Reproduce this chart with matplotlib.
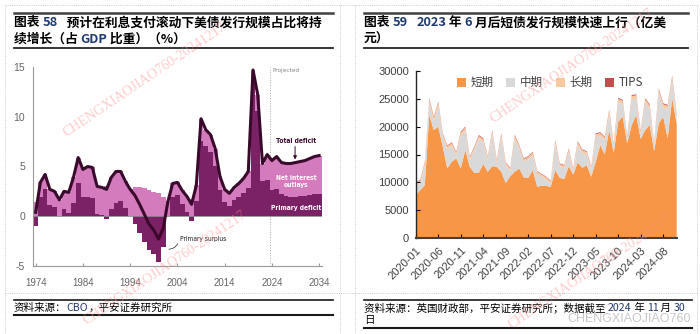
import matplotlib
matplotlib.use('Agg')
import matplotlib.pyplot as plt
from matplotlib.lines import Line2D
from matplotlib import font_manager
import numpy as np
import pandas as pd

plt.rcParams['axes.unicode_minus'] = False

W, H = 700, 334
CJK = 'Noto Sans CJK SC'
NAVY = '#1F3A6E'

# pick a narrow face for the small chart notes if one is around
fonts = font_manager.fontManager.ttflist
if any(f.name == 'Liberation Sans Narrow' for f in fonts):
    NOTE = dict(family='Liberation Sans Narrow')
    NOTE_SIZE = 5.6
elif any(f.name == 'DejaVu Sans' and f.stretch == 'condensed' for f in fonts):
    NOTE = dict(family='DejaVu Sans', fontstretch='condensed')
    NOTE_SIZE = 4.8
else:
    NOTE = dict(family='Liberation Sans')
    NOTE_SIZE = 4.5

# ---- 图表58: CBO deficit components, % of GDP ----
years = np.arange(1974, 2035)
primary_deficit = [-1.0, 1.9, 2.7, 1.1, 0.9, 0.05, 0.7, 0.3, 1.3, 3.3,
                   1.9, 1.9, 1.8, 0.2, 0.1, -0.3, 0.7, 1.3, 1.5, 0.8,
                   0.0, -0.8, -1.7, -2.6, -3.4, -3.8, -4.6, -3.1, 0.0, 1.9,
                   2.1, 1.2, 0.4, -0.5, 1.5, 7.6, 7.1, 6.5, 5.1, 2.6,
                   1.4, 1.0, 1.6, 1.9, 2.3, 2.8, 13.3, 10.6, 3.5, 3.6,
                   2.6, 2.7, 2.2, 2.0, 1.9, 1.9, 2.0, 2.0, 2.1, 2.2, 2.2]
net_interest = [1.4, 1.5, 1.5, 1.6, 1.6, 1.6, 1.8, 2.1, 2.6, 2.6,
                2.8, 3.1, 3.1, 2.8, 2.8, 3.0, 3.2, 3.2, 3.0, 2.7,
                2.7, 2.9, 2.9, 2.8, 2.6, 2.4, 2.3, 1.9, 1.5, 1.4,
                1.3, 1.4, 1.6, 1.7, 1.6, 2.2, 1.6, 1.7, 1.7, 1.4,
                1.3, 1.3, 1.3, 1.4, 1.5, 1.7, 1.4, 1.6, 1.8, 2.6,
                3.0, 3.3, 3.2, 3.3, 3.4, 3.5, 3.5, 3.6, 3.7, 3.8, 3.9]
decade_ticks = [1974, 1984, 1994, 2004, 2014, 2024, 2034]

# ---- 图表59: monthly Treasury issuance by tenor, 亿美元 ----
months = pd.period_range('2020-01', '2024-11', freq='M').strftime('%Y-%m').tolist()
short_term = [7700, 8600, 9500, 22100, 19400, 20000, 16400, 12500, 13700, 14300,
              12500, 15800, 12800, 11700, 11700, 13300, 11900, 12900, 12800, 11900,
              9900, 11100, 11900, 12500, 10900, 10800, 12200, 9200, 9400, 9350,
              9200, 12200, 10800, 10600, 12900, 11400, 13600, 12600, 13100, 11000,
              13700, 16700, 15000, 19400, 15300, 20900, 21800, 17000, 20300, 22100,
              17800, 19400, 20300, 15600, 20600, 21800, 17900, 25100, 20500]
mid_term = [1680, 1330, 3550, 2220, 1690, 3750, 1730, 3490, 2860, 610,
            5870, 3500, 1220, 4060, 6110, 3930, 2100, 5800, 600, 6220,
            3150, 980, 5900, 3560, 2810, 3290, 2660, 2260, 1580, 1140,
            610, 4730, 2030, 1950, 2560, 560, 3130, 2680, 1890, 1260,
            4420, 1620, 2540, 2850, 990, 3520, 2240, 660, 4610, 2910,
            850, 4930, 2960, 880, 5500, 1650, 5270, 3270, 980]
long_term = [420, 450, 500, 600, 550, 580, 520, 480, 500, 470,
             560, 540, 460, 500, 530, 520, 480, 540, 470, 530,
             440, 420, 540, 500, 470, 480, 500, 430, 420, 410,
             400, 520, 450, 440, 500, 430, 520, 490, 480, 430,
             530, 530, 520, 580, 480, 600, 590, 500, 610, 610,
             510, 600, 580, 490, 620, 580, 570, 640, 560]
tips = [100, 120, 150, 180, 160, 170, 150, 130, 140, 120,
        170, 160, 120, 140, 160, 150, 120, 160, 130, 150,
        110, 100, 160, 140, 120, 130, 140, 110, 100, 100,
        90, 150, 120, 110, 140, 110, 150, 130, 130, 110,
        150, 150, 140, 170, 130, 180, 170, 140, 180, 180,
        140, 170, 160, 130, 180, 170, 160, 190, 160]
series_names = ['短期', '中期', '长期', 'TIPS']
series_colors = ['#F79646', '#D9D9D9', '#FCC8A0', '#C0504D']

fig = plt.figure(figsize=(W / 100, H / 100), dpi=100)
fig.patch.set_facecolor('white')


def fx(x):
    return x / W


def fy(y):
    return 1 - y / H


def hline(y, x0, x1, lw, color='#262626', ls='-'):
    fig.add_artist(Line2D([fx(x0), fx(x1)], [fy(y), fy(y)], lw=lw, color=color, ls=ls))


def vline(x, y0, y1, lw, color, ls='-'):
    fig.add_artist(Line2D([fx(x), fx(x)], [fy(y0), fy(y1)], lw=lw, color=color, ls=ls))


renderer = fig.canvas.get_renderer()


def write_runs(x, y, runs, **kw):
    # draws text pieces one after another so numbers can take another colour
    for s, c in runs:
        t = fig.text(fx(x), fy(y), s, color=c, ha='left', va='center', family=[CJK], **kw)
        x += t.get_window_extent(renderer=renderer).width


# dotted panel frames
for y in (5, 293):
    hline(y, 5, 697, 0.6, '#BBBBBB', ':')
for x in (5, 340, 355, 697):
    vline(x, 5, 334, 0.6, '#BBBBBB', ':')

# titles
for x0, x1 in ((14, 333), (364, 688)):
    hline(12.7, x0, x1, 1.8, '#404040')
    hline(48, x0, x1, 1.3, '#262626')
tkw = dict(fontsize=9.2, fontweight='bold')
write_runs(14, 22.7, [('图表 ', 'black'), ('58', NAVY), ('   预计在利息支付滚动下美债发行规模占比将持', 'black')], **tkw)
write_runs(14, 39.5, [('续增长（占 ', 'black'), ('GDP', NAVY), (' 比重）（%）', 'black')], **tkw)
write_runs(364, 22.7, [('图表 ', 'black'), ('59', NAVY), ('   ', 'black'), ('2023', NAVY),
                       (' 年 ', 'black'), ('6', NAVY), (' 月后短债发行规模快速上行（亿美', 'black')], **tkw)
write_runs(364, 39.5, [('元）', 'black')], **tkw)

# sources
hline(300, 14, 333, 1.2, '#1A1A1A')
hline(315, 14, 333, 1.5, '#1A1A1A')
hline(300, 364, 692, 1.2, '#1A1A1A')
hline(328, 364, 692, 1.5, '#1A1A1A')
skw = dict(fontsize=7.6)
write_runs(14, 308, [('资料来源：', 'black'), ('CBO', NAVY), ('，平安证券研究所', 'black')], **skw)
write_runs(364, 308, [('资料来源：英国财政部，平安证券研究所；数据截至 ', 'black'), ('2024', NAVY),
                      (' 年 ', 'black'), ('11', NAVY), (' 月 ', 'black'), ('30', NAVY)], **skw)
write_runs(364, 320, [('日', 'black')], **skw)
fig.text(fx(691), fy(319), 'CHENGXIAOJIAO760', ha='right', va='center', color='#C8C8C8',
         fontsize=9, family='Liberation Sans')

# ---- left chart ----
ax1 = fig.add_axes([fx(33.3), fy(266), fx(322 - 33.3), (266 - 67) / H])
p = np.array(primary_deficit)
ni = np.array(net_interest)
total = p + ni
PINK, PURPLE, DARK = '#D47BBD', '#7B2166', '#3A0A2D'
ax1.bar(years, ni, bottom=np.clip(p, 0, None), width=1.0, color=PINK, linewidth=0, zorder=2)
ax1.bar(years, p, width=1.0, color=PURPLE, linewidth=0, zorder=2)
ax1.axhline(0, color='#8C8C8C', lw=0.6, zorder=3)
ax1.plot(years, total, color=DARK, lw=2.2, zorder=4, solid_joinstyle='round')
ax1.axvline(2023.6, color='#AAAAAA', lw=0.7, ls=':', zorder=1)
ax1.set_xlim(1973.5, 2034.6)
ax1.set_ylim(-5, 15)
ax1.set_yticks([-5, 0, 5, 10, 15])
ax1.set_xticks(decade_ticks)
for s in ('top', 'right'):
    ax1.spines[s].set_visible(False)
for s in ('left', 'bottom'):
    ax1.spines[s].set_color('#9A9A9A')
    ax1.spines[s].set_linewidth(0.8)
ax1.tick_params(axis='y', length=0, pad=6, labelsize=7.5, labelcolor='#666666')
ax1.tick_params(axis='x', direction='in', length=2.5, color='#9A9A9A', pad=9,
                labelsize=7, labelcolor='#666666')
for lab in ax1.get_xticklabels() + ax1.get_yticklabels():
    lab.set_family('Liberation Sans')

akw = dict(fontsize=NOTE_SIZE, ha='center', va='center', zorder=5, **NOTE)
ax1.text(2024.2, 14.6, 'Projected', color='#888888', ha='left', va='center',
         fontsize=NOTE_SIZE * 0.95, **NOTE)
ax1.text(2029.1, 7.6, 'Total deficit', color=DARK, fontweight='bold', **akw)
ax1.annotate('', xy=(2028.9, 5.7), xytext=(2028.9, 7.0),
             arrowprops=dict(arrowstyle='-|>', color=DARK, lw=0.7, mutation_scale=5,
                             shrinkA=0, shrinkB=0))
ax1.text(2029.1, 3.5, 'Net interest\noutlays', color='white', fontweight='bold',
         linespacing=1.1, **akw)
ax1.text(2029.1, 0.8, 'Primary deficit', color='white', fontweight='bold', **akw)
ax1.text(2004.5, -2.3, 'Primary surplus', color='#222222', fontsize=NOTE_SIZE,
         ha='left', va='center', **NOTE)
ax1.annotate('', xy=(2001.6, -3.3), xytext=(2004.3, -2.5),
             arrowprops=dict(arrowstyle='-', color='#222222', lw=0.5,
                             connectionstyle='arc3,rad=-0.4'))

# ---- right chart ----
ax2 = fig.add_axes([fx(415.8), fy(238), fx(676.7 - 415.8), (238 - 71) / H])
xi = np.arange(len(months))
ax2.stackplot(xi, short_term, mid_term, long_term, tips, colors=series_colors,
              labels=series_names, linewidth=0)
ax2.set_xlim(0, len(months) - 1)
ax2.set_ylim(0, 30000)
ax2.set_yticks(range(0, 30001, 5000))
ax2.set_xticks(xi[::5])
ax2.set_xticklabels(months[::5], rotation=45, ha='right', rotation_mode='anchor',
                    family='Liberation Sans')
for lab in ax2.get_yticklabels():
    lab.set_family('Liberation Sans')
for s in ('top', 'right'):
    ax2.spines[s].set_visible(False)
ax2.spines['left'].set_color('#262626')
ax2.spines['left'].set_linewidth(1.0)
ax2.spines['bottom'].set_color('#404040')
ax2.spines['bottom'].set_linewidth(1.5)
ax2.tick_params(axis='y', direction='in', length=3, pad=5, labelsize=8, labelcolor='#404040')
ax2.tick_params(axis='x', direction='in', length=3, pad=5, labelsize=8, labelcolor='#404040')
leg = ax2.legend(loc='upper center', bbox_to_anchor=(0.515, 1.03), ncol=4, frameon=False,
                 handlelength=0.8, handleheight=0.8, handletextpad=0.4, columnspacing=1.1,
                 prop={'family': [CJK, 'DejaVu Sans'], 'size': 8.3})
for t in leg.get_texts():
    t.set_color('#404040')

# watermark
for cx, cy in ((145, 80), (165, 268), (572, 66), (590, 272)):
    fig.text(fx(cx), fy(cy), 'CHENGXIAOJIAO760-20241217', rotation=34, color='#FF8C8C',
             alpha=0.45, fontsize=10, family='Liberation Serif', ha='center', va='center',
             rotation_mode='anchor', zorder=10)

fig.savefig('out.png', dpi=100)
